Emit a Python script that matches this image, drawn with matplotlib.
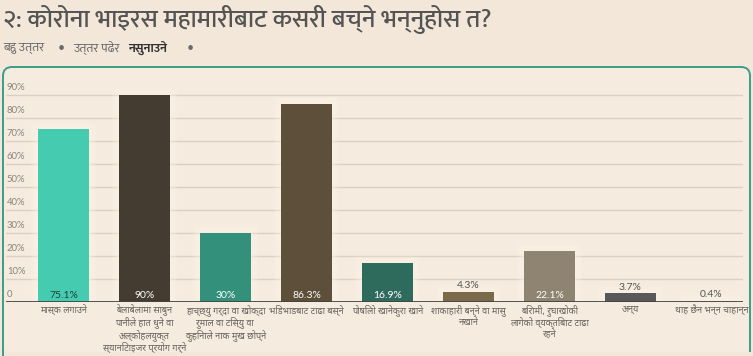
import matplotlib
matplotlib.use("Agg")
import matplotlib.pyplot as plt
from matplotlib.patches import FancyBboxPatch, PathPatch
from matplotlib.path import Path
from matplotlib.transforms import offset_copy

categories = [
    "मास्क लगाउने",
    "बेलाबेलामा साबुन\nपानीले हात धुने वा\nअल्कोहलयुक्त\nस्यानिटाइजर प्रयोग गर्ने",
    "हाच्छ्यु गर्दा वा खोक्दा\nरुमाल वा टिस्यु वा\nकुहिनाले नाक मुख छोप्ने",
    "भिडभाडबाट टाढा बस्ने",
    "पोषिलो खानेकुरा खाने",
    "शाकाहारी बन्ने वा मासु\nनखाने",
    "बिरामी, रुघाखोकी\nलागेको व्यक्तिबाट टाढा\nरहने",
    "अन्य",
    "थाह छैन भन्न चाहान्न",
]
values = [75.1, 90, 30, 86.3, 16.9, 4.3, 22.1, 3.7, 0.4]
value_labels = ["75.1%", "90%", "30%", "86.3%", "16.9%", "4.3%", "22.1%", "3.7%", "0.4%"]
colors = ["#45ccb0", "#443c31", "#32907b", "#5d4f3a", "#2f6b5d",
          "#7b6a4a", "#8e8471", "#58585a", "#b8b8b8"]
yticks = [0, 10, 20, 30, 40, 50, 60, 70, 80, 90]
ytick_labels = ["0", "10%", "20%", "30%", "40%", "50%", "60%", "70%", "80%", "90%"]

W, H = 753, 356
DEV = ["Mukta", "Noto Sans Devanagari", "DejaVu Sans"]
DEV2 = ["Noto Sans Devanagari", "Mukta", "DejaVu Sans"]
NUM = ["Lato", "DejaVu Sans"]

fig = plt.figure(figsize=(W / 100, H / 100), dpi=100)
fig.patch.set_facecolor("#f3e7d9")

def fx(px):
    return px / W

def fy(py):
    return 1 - py / H

# panel fill
panel = FancyBboxPatch((fx(3), fy(352)), fx(747), (352 - 67) / H,
                       boxstyle="round,pad=0,rounding_size=0.012",
                       transform=fig.transFigure, facecolor="#f5ebde",
                       edgecolor="none", zorder=-5)
fig.patches.append(panel)
# panel border: left, top (rounded corners), right; open at bottom
r = 9
verts = [(3, 356), (3, 67 + r), (3, 67), (3 + r, 67), (750 - r, 67),
         (750, 67), (750, 67 + r), (750, 352)]
codes = [Path.MOVETO, Path.LINETO, Path.CURVE3, Path.CURVE3, Path.LINETO,
         Path.CURVE3, Path.CURVE3, Path.LINETO]
border = PathPatch(Path([(fx(a), fy(b)) for a, b in verts], codes),
                   transform=fig.transFigure, facecolor="none",
                   edgecolor="#3a9e88", linewidth=1.4, zorder=-4)
fig.patches.append(border)

# title
fig.text(fx(3), fy(20), "२: कोरोना भाइरस महामारीबाट कसरी बच्ने भन्नुहोस त?",
         family=DEV, fontsize=18.3, weight="medium", color="#545454",
         va="center", ha="left")
sub_color = "#6a6a6a"
fs_sub = 9
fig.text(fx(3), fy(48), "बहु उत्तर", family=DEV, fontsize=fs_sub, color=sub_color, va="center")
fig.text(fx(61), fy(48), "•", family=NUM, fontsize=fs_sub, color=sub_color, va="center", ha="center")
fig.text(fx(73), fy(48), "उत्तर पढेर", family=DEV, fontsize=fs_sub, color=sub_color, va="center")
fig.text(fx(128), fy(48), "नसुनाउने", family=DEV, fontsize=fs_sub, color="#333333",
         weight="bold", va="center")
fig.text(fx(190), fy(48), "•", family=NUM, fontsize=fs_sub, color=sub_color, va="center", ha="center")

# axes
left_px, right_px = 6, 743
bottom_px, top_px = 302, 72
ax = fig.add_axes([fx(left_px), fy(bottom_px), (right_px - left_px) / W,
                   (bottom_px - top_px) / H])
ax.set_facecolor("none")
ax.set_zorder(1)
x = list(range(len(values)))
ax.set_xlim(-0.71, 8.39)
ax.set_ylim(0, 100)
for s in ax.spines.values():
    s.set_visible(False)
ax.set_xticks([])
ax.set_yticks([])

for t, lab in zip(yticks, ytick_labels):
    if t > 0:
        ax.axhline(t, color="#dcd0c2", linewidth=1, zorder=1)
    ax.text(-0.70, t + 1.2, lab, family=NUM, fontsize=6.8, color="#8a8580",
            ha="left", va="bottom", zorder=2)

# soft glow behind bars
for k in range(1, 6):
    ax.bar(x, [v + 0.6 * k for v in values], width=0.63 + 0.035 * k,
           color="#fff8ea", alpha=0.13, linewidth=0, zorder=2)

ax.bar(x, values, width=0.63, color=colors, zorder=3)
ax.axhline(0, color="#444444", linewidth=2, zorder=4)

for i, (v, lab) in enumerate(zip(values, value_labels)):
    if v > 10:
        c = "#1f3f38" if i == 0 else "#ffffff"
        ax.text(i, 3.0, lab, family=NUM, fontsize=7.5, color=c,
                ha="center", va="center", zorder=5)
    else:
        ax.text(i, v + 2.8, lab, family=NUM, fontsize=7.5, color="#555555",
                ha="center", va="center", zorder=5)

for i, lab in enumerate(categories):
    for k, line in enumerate(lab.split("\n")):
        tr = offset_copy(ax.transData, fig=fig, x=0, y=-8 - 12.3 * k, units="dots")
        ax.text(i, 0, line, family=DEV2, fontsize=6.6, color="#6a6560",
                ha="center", va="center", transform=tr, zorder=5, clip_on=False)

fig.savefig("out.png", dpi=100, facecolor=fig.get_facecolor())
